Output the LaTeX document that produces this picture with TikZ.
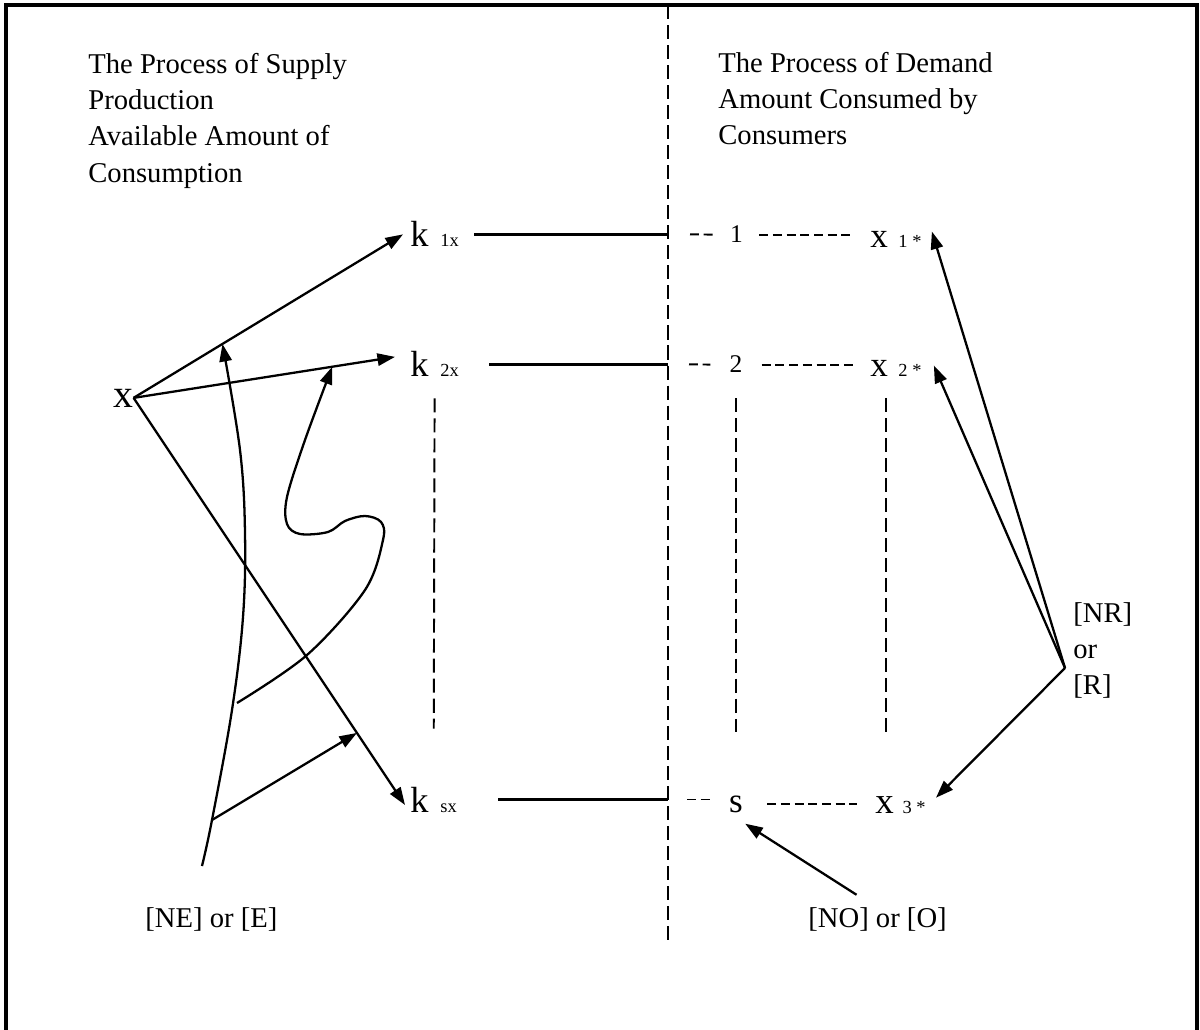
\documentclass[tikz,border=0pt]{standalone}
\usepackage{fontspec}
\setmainfont{Liberation Serif}
\usetikzlibrary{arrows.meta,positioning}

\newcommand{\subtxt}[1]{{\fontsize{10.5}{12}\selectfont #1}}

\begin{document}
\begin{tikzpicture}[
    x=0.02cm, y=-0.02cm,
    lbl/.style={inner sep=0pt, font=\fontsize{16.3}{20.6}\selectfont, align=left},
    sym/.style={inner sep=0pt, anchor=base west},
    kvar/.style={sym, font=\fontsize{20.7}{25}\selectfont},
    xvar/.style={sym, font=\fontsize{20}{24}\selectfont},
    digit/.style={sym, anchor=base, font=\fontsize{14.5}{17}\selectfont},
    arrow/.style={-{Triangle[length=10pt,width=7pt]}, line width=1.3pt},
    link/.style={line width=1.3pt},
    hdash/.style={line width=1.1pt, dash pattern=on 5.1pt off 2.7pt},
    vdash/.style={line width=1.1pt, dash pattern=on 8pt off 3.4pt}
]
\useasboundingbox (0,0) rectangle (1200,1030);

% Frame
\draw[line width=2.2pt] (6,1030) -- (6,5) -- (1197,5) -- (1197,1030);

% Headers
\node[lbl, anchor=north west] (supply) at (88,53) {The Process of Supply\\Production\\Available Amount of\\Consumption};
\node[lbl, anchor=north west] (demand) at (718,52) {The Process of Demand\\Amount Consumed by\\Consumers};

% Divider
\coordinate (divtop) at (668,5);
\coordinate (divbot) at (668,943);
\draw[vdash] (divtop) -- (divbot);

% Supply side
\node[sym, font=\fontsize{22.6}{27}\selectfont] (xs) at (113,407) {x};
\node[kvar] (k1) at (410,247) {k\hspace{6.8pt}\subtxt{1x}};
\node[kvar] (k2) at (410,377) {k\hspace{6.8pt}\subtxt{2x}};
\node[kvar] (ksx) at (410,812) {k\hspace{6.8pt}\subtxt{sx}};

% Demand side
\node[digit] (one) at (736.5,243) {1};
\node[digit] (two) at (736,373) {2};
\node[digit, font=\fontsize{20}{24}\selectfont] (s) at (736,812) {s};
\node[xvar] (x1) at (870,248) {x\hspace{6pt}\subtxt{1 *}};
\node[xvar] (x2) at (870,377) {x\hspace{6pt}\subtxt{2 *}};
\node[xvar, font=\fontsize{21}{25}\selectfont] (x3) at (875,813) {x\hspace{5pt}\subtxt{3 *}};

% Labels
\node[lbl, anchor=base west] (nelab) at (145,927) {[NE] or [E]};
\node[lbl, anchor=base west] (nolab) at (808,927) {[NO] or [O]};
\node[lbl, anchor=north west] (nrlab) at (1073,602) {[NR]\\or\\{[R]}};
\coordinate (nrpt) at (1065,668);

% Arrows from x
\draw[arrow] (xs.east) -- coordinate[pos=0.33] (hita) ([xshift=-0.14cm]k1.west);
\draw[arrow] (xs.east) -- coordinate[pos=0.76] (hitb) ([xshift=-0.3cm,yshift=0.15cm]k2.west);
\draw[arrow] (xs.east) -- coordinate[pos=0.823] (hitk) ([xshift=-0.1cm,yshift=-0.11cm]ksx.west);

% Curves
\coordinate (ea) at (212,820);
\draw[arrow] plot[smooth, tension=0.6] coordinates {(202,866) (ea) (232,710) (243,617) (245,533) (240,450) (hita)};
\draw[arrow] plot[smooth, tension=0.55] coordinates {(237,703) (307,655) (365,590) (383,540) (381,522) (365,516) (345,521) (328,532) (300,534) (287,524) (287,497) (305,440) (hitb)};
\draw[arrow] (ea) -- (hitk);

% Rows
\coordinate (d1) at (k1.east -| divtop);
\coordinate (d2) at (k2.east -| divtop);
\coordinate (d3) at (ksx.east -| divtop);
\coordinate (e1) at (one.east -| x1.west);
\coordinate (e2) at (two.east -| x2.west);
\coordinate (f3) at (d3 -| s.west);
\coordinate (e3) at (s.east -| x3.west);

\draw[link] ([xshift=0.3cm]k1.east) -- (d1);
\draw[hdash] ([xshift=0.44cm]d1) -- ([xshift=-0.34cm]one.west);
\draw[hdash] ([xshift=0.32cm]one.east) -- ([xshift=-0.38cm]e1);

\draw[link] ([xshift=0.6cm]k2.east) -- (d2);
\draw[hdash] ([xshift=0.42cm]d2) -- ([xshift=-0.38cm]two.west);
\draw[hdash] ([xshift=0.38cm]two.east) -- ([xshift=-0.3cm]e2);

\draw[link] ([xshift=0.82cm]ksx.east) -- (d3);
\draw[hdash] ([xshift=0.38cm]d3) -- ([xshift=-0.38cm]f3);
\draw[hdash] ([xshift=0.48cm]s.east) -- ([xshift=-0.36cm]e3);

% Columns
\draw[vdash, shorten <=11.9pt, shorten >=32.9pt] (k2.south) -- (ksx.north);
\draw[vdash, shorten <=14.2pt, shorten >=35.7pt] (two.south) -- (s.north);
\draw[vdash] ([xshift=0.32cm,yshift=-0.42cm]x2.base west) -- ++(0,334);

% Arrows to x*
\draw[arrow] (nrpt) -- ([xshift=0.2cm]x1.north east);
\draw[arrow] (nrpt) -- ([xshift=0.24cm,yshift=-0.1cm]x2.north east);
\draw[arrow] (nrpt) -- ([xshift=0.2cm,yshift=-0.04cm]x3.north east);
\draw[arrow] ([xshift=-0.42cm,yshift=0.24cm]nolab.north) -- ([xshift=0.04cm,yshift=-0.22cm]s.south east);

\end{tikzpicture}
\end{document}
